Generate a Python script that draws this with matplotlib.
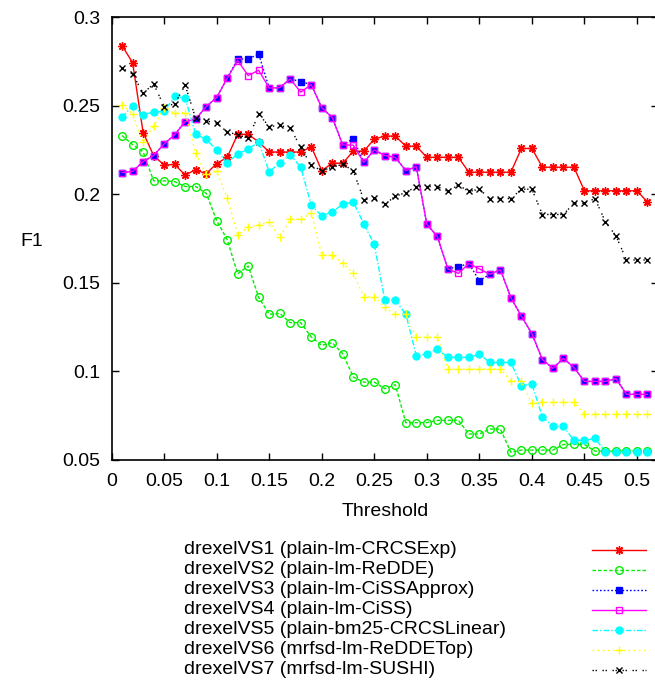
import matplotlib
matplotlib.use("Agg")
import matplotlib.pyplot as plt

plt.rcParams['font.family'] = ['Liberation Sans', 'DejaVu Sans']

# thresholds 0.01 .. 0.51
thresholds = [0.01, 0.02, 0.03, 0.04, 0.05, 0.06, 0.07, 0.08, 0.09, 0.10,
              0.11, 0.12, 0.13, 0.14, 0.15, 0.16, 0.17, 0.18, 0.19, 0.20,
              0.21, 0.22, 0.23, 0.24, 0.25, 0.26, 0.27, 0.28, 0.29, 0.30,
              0.31, 0.32, 0.33, 0.34, 0.35, 0.36, 0.37, 0.38, 0.39, 0.40,
              0.41, 0.42, 0.43, 0.44, 0.45, 0.46, 0.47, 0.48, 0.49, 0.50,
              0.51]

vs1 = [0.284, 0.2745, 0.235, 0.222, 0.2166, 0.217, 0.211, 0.214, 0.2117, 0.2175,
       0.221, 0.234, 0.234, 0.2297, 0.224, 0.224, 0.224, 0.224, 0.227, 0.2135,
       0.2177, 0.2177, 0.2245, 0.2245, 0.2313, 0.233, 0.233, 0.2273, 0.2273, 0.221,
       0.221, 0.221, 0.221, 0.2126, 0.2126, 0.2126, 0.2126, 0.2126, 0.226, 0.226,
       0.2154, 0.2154, 0.2154, 0.2154, 0.2021, 0.2021, 0.2021, 0.2021, 0.2021, 0.2021,
       0.1957]

vs2 = [0.2333, 0.2282, 0.2241, 0.2077, 0.2077, 0.2073, 0.2045, 0.2045, 0.2007, 0.1853,
       0.1745, 0.1552, 0.1596, 0.1419, 0.1323, 0.1328, 0.1276, 0.1276, 0.1195, 0.1148,
       0.1163, 0.1100, 0.0969, 0.094, 0.094, 0.0903, 0.0925, 0.0711, 0.0711, 0.0711,
       0.0724, 0.0724, 0.0724, 0.0647, 0.0647, 0.0675, 0.0675, 0.0543, 0.0556, 0.0556,
       0.0556, 0.0556, 0.0588, 0.0588, 0.0588, 0.055, 0.055, 0.055, 0.055, 0.055,
       0.055]

vs3 = [0.2124, 0.213, 0.2186, 0.222, 0.2286, 0.2337, 0.2412, 0.2425, 0.2497, 0.2548,
       0.2657, 0.2766, 0.2766, 0.2793, 0.2601, 0.2604, 0.2653, 0.2638, 0.2621, 0.249,
       0.2435, 0.228, 0.2316, 0.2181, 0.2252, 0.222, 0.221, 0.2135, 0.2154, 0.1832,
       0.1763, 0.158, 0.1592, 0.161, 0.1513, 0.1549, 0.1575, 0.1417, 0.1313, 0.1213,
       0.1067, 0.1018, 0.1074, 0.1023, 0.0944, 0.0944, 0.0944, 0.096, 0.0871, 0.0871,
       0.0871]

vs4 = [0.2124, 0.213, 0.2186, 0.222, 0.2286, 0.2337, 0.2412, 0.2425, 0.2497, 0.2548,
       0.2657, 0.2757, 0.2672, 0.2702, 0.2601, 0.2604, 0.2653, 0.2578, 0.2621, 0.249,
       0.2435, 0.228, 0.2279, 0.2181, 0.2252, 0.222, 0.221, 0.2135, 0.2158, 0.1832,
       0.1763, 0.158, 0.1554, 0.161, 0.158, 0.1549, 0.1575, 0.1417, 0.1313, 0.1213,
       0.1067, 0.1018, 0.1074, 0.1023, 0.0944, 0.0944, 0.0944, 0.096, 0.0871, 0.0871,
       0.0871]

vs5 = [0.2437, 0.2501, 0.245, 0.2467, 0.2469, 0.2555, 0.2544, 0.2341, 0.2312, 0.2252,
       0.2177, 0.223, 0.2256, 0.2297, 0.2128, 0.2179, 0.2224, 0.2154, 0.1941, 0.1879,
       0.1902, 0.1945, 0.1958, 0.1834, 0.1718, 0.1404, 0.1404, 0.1323, 0.109, 0.11,
       0.1127, 0.108, 0.108, 0.108, 0.1097, 0.1051, 0.1051, 0.1051, 0.0918, 0.0929,
       0.0743, 0.069, 0.069, 0.0611, 0.0611, 0.0622, 0.0547, 0.0547, 0.0547, 0.0547,
       0.0547]

vs6 = [0.2506, 0.2456, 0.2294, 0.2388, 0.2486, 0.2459, 0.2463, 0.2233, 0.2115, 0.213,
       0.198, 0.1772, 0.1815, 0.1828, 0.1843, 0.1759, 0.186, 0.186, 0.1894, 0.1658,
       0.1658, 0.1611, 0.1554, 0.1422, 0.1422, 0.1362, 0.1323, 0.1323, 0.1193, 0.1193,
       0.1193, 0.1014, 0.1014, 0.1014, 0.1014, 0.1014, 0.1014, 0.0946, 0.0946, 0.082,
       0.0826, 0.0826, 0.0826, 0.0826, 0.0758, 0.0758, 0.0758, 0.0758, 0.0758, 0.0758,
       0.0758]

vs7 = [0.2714, 0.268, 0.2572, 0.2625, 0.2497, 0.2512, 0.2617, 0.2431, 0.2416, 0.2403,
       0.2354, 0.2337, 0.2318, 0.2454, 0.2384, 0.239, 0.2376, 0.2267, 0.2164, 0.2135,
       0.2154, 0.2171, 0.2134, 0.197, 0.198, 0.1945, 0.199, 0.2011, 0.2045, 0.2045,
       0.2045, 0.2017, 0.2054, 0.2017, 0.203, 0.1977, 0.1977, 0.1977, 0.203, 0.203,
       0.1887, 0.1887, 0.1887, 0.1951, 0.1951, 0.1977, 0.1845, 0.1766, 0.163, 0.163,
       0.163]

labels = ["drexelVS1 (plain-lm-CRCSExp)",
          "drexelVS2 (plain-lm-ReDDE)",
          "drexelVS3 (plain-lm-CiSSApprox)",
          "drexelVS4 (plain-lm-CiSS)",
          "drexelVS5 (plain-bm25-CRCSLinear)",
          "drexelVS6 (mrfsd-lm-ReDDETop)",
          "drexelVS7 (mrfsd-lm-SUSHI)"]

xticks = [0, 0.05, 0.1, 0.15, 0.2, 0.25, 0.3, 0.35, 0.4, 0.45, 0.5]
xticklabels = ["0", "0.05", "0.1", "0.15", "0.2", "0.25", "0.3", "0.35", "0.4", "0.45", "0.5"]
yticks = [0.05, 0.1, 0.15, 0.2, 0.25, 0.3]
yticklabels = ["0.05", "0.1", "0.15", "0.2", "0.25", "0.3"]

# gnuplot-like styles
styles = [
    dict(color="#ff0000", marker=(8, 2, 0), ms=6, mfc="none", dashes=()),
    dict(color="#00ee00", marker="o", ms=5.5, mfc="none", dashes=(2.5, 1.5)),
    dict(color="#0000ff", marker="s", ms=5, mfc="#0000ff", dashes=(1.2, 1.5)),
    dict(color="#ff00ff", marker="s", ms=5, mfc="none", dashes=()),
    dict(color="#00ffff", marker="o", ms=5, mfc="#00ffff", dashes=(4, 1.5, 1, 1.5)),
    dict(color="#ffff00", marker="+", ms=6, mfc="none", dashes=(1.2, 2.5)),
    dict(color="#000000", marker="x", ms=5, mfc="none", dashes=(1, 1.2, 1, 4)),
]
series = [vs1, vs2, vs3, vs4, vs5, vs6, vs7]
FS = 14

W, H = 655, 681
fig = plt.figure(figsize=(W / 100, H / 100), dpi=100)
ax = fig.add_axes([111.6 / W, (H - 460) / H, (658 - 111.6) / W, 442.5 / H])

for ys, st in zip(series, styles):
    line, = ax.plot(thresholds, ys, color=st["color"], lw=1.0, marker=st["marker"],
                    markersize=st["ms"], markerfacecolor=st["mfc"],
                    markeredgecolor=st["color"], markeredgewidth=1.0)
    if st["dashes"]:
        line.set_dashes(st["dashes"])

ax.set_xlim(0, 0.52)
ax.set_ylim(0.05, 0.3)
ax.set_xticks(xticks)
ax.set_xticklabels(xticklabels)
ax.set_yticks(yticks)
ax.set_yticklabels(yticklabels)
ax.tick_params(direction="in", length=5, width=1, top=True, right=True,
               labelsize=FS)
ax.tick_params(axis="x", pad=9)
ax.tick_params(axis="y", pad=8)
for sp in ax.spines.values():
    sp.set_linewidth(1.2)

fig.text(385 / W, 1 - 511 / H, "Threshold", ha="center", va="center", fontsize=FS)
fig.text(32 / W, 1 - 241 / H, "F1", ha="center", va="center", fontsize=FS)

# key below the plot: text on the left, sample on the right
leg = fig.add_axes([0, 0, 1, 1], zorder=-1)
leg.set_xlim(0, W)
leg.set_ylim(H, 0)
leg.axis("off")
for i, (lab, st) in enumerate(zip(labels, styles)):
    y = 550 + 20 * i
    leg.text(184, y, lab, ha="left", va="center", fontsize=FS)
    ln, = leg.plot([592, 646], [y, y], color=st["color"], lw=1.0)
    if st["dashes"]:
        ln.set_dashes(st["dashes"])
    leg.plot([619], [y], linestyle="none", marker=st["marker"], markersize=st["ms"],
             markerfacecolor=st["mfc"], markeredgecolor=st["color"], markeredgewidth=1.0)

fig.savefig("out.png", dpi=100)
